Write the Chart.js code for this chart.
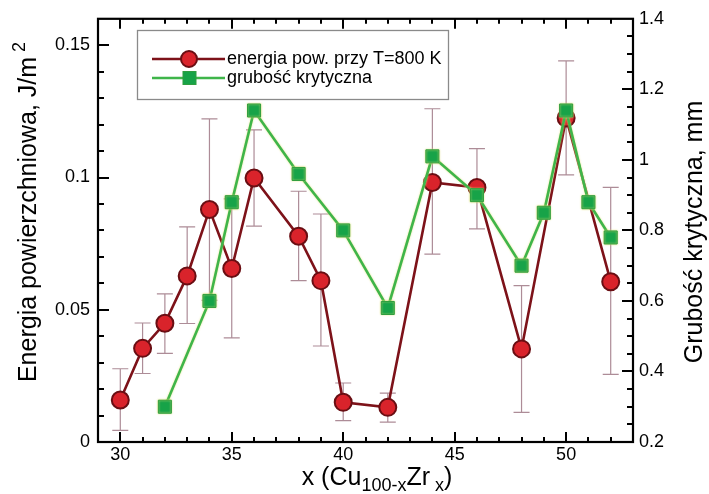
<!DOCTYPE html>
<html><head><meta charset="utf-8">
<script src="https://cdn.jsdelivr.net/npm/chart.js@4.4.0/dist/chart.umd.min.js"></script>
<style>html,body{margin:0;padding:0;background:#fff;} canvas{display:block;}</style>
</head><body>
<canvas id="c" width="709" height="494"></canvas>
<script>
// ---- data ----
const energyX = [30, 31, 32, 33, 34, 35, 36, 38, 39, 40, 42, 44, 46, 48, 50, 52];
const energyY = [0.0159, 0.0354, 0.0449, 0.0628, 0.0879, 0.0656, 0.0998, 0.0778, 0.0610, 0.0150, 0.0131, 0.0981, 0.0962, 0.0352, 0.1225, 0.0606];
const energyErrHigh = [0.0277, 0.0450, 0.0560, 0.0813, 0.1222, 0.0919, 0.1180, 0.0948, 0.0862, 0.0223, 0.0185, 0.1260, 0.1109, 0.0591, 0.1441, 0.0963];
const energyErrLow  = [0.0044, 0.0259, 0.0335, 0.0448, 0.0536, 0.0394, 0.0816, 0.0610, 0.0363, 0.0081, 0.0075, 0.0710, 0.0806, 0.0112, 0.1010, 0.0256];
const thickX = [32, 34, 35, 36, 38, 40, 42, 44, 46, 48, 49, 50, 51, 52];
const thickY = [0.30, 0.60, 0.88, 1.14, 0.96, 0.80, 0.58, 1.01, 0.90, 0.70, 0.85, 1.14, 0.88, 0.78];

const xTicks = [30, 35, 40, 45, 50];
const xTickLabels = ['30', '35', '40', '45', '50'];
const yLeftTicks = [0, 0.05, 0.1, 0.15];
const yLeftTickLabels = ['0', '0.05', '0.1', '0.15'];
const yRightTicks = [0.2, 0.4, 0.6, 0.8, 1, 1.2, 1.4];
const yRightTickLabels = ['0.2', '0.4', '0.6', '0.8', '1', '1.2', '1.4'];
const xMinorStep = 1, yLeftMinorStep = 0.01, yRightMinorStep = 0.05;

const energyLabel = 'energia pow. przy T=800 K';
const thickLabel = 'grubość krytyczna';
const yLeftTitle = 'Energia powierzchniowa, J/m';
const yLeftTitleSup = '2';
const yRightTitle = 'Grubość krytyczna, mm';
const xTitleParts = [['x (Cu', false], ['100-x', true], ['Zr', false], [' x', true], [')', false]];

const FONT = "'Liberation Sans', Arial, sans-serif";
const RED_LINE = '#7d1219', RED_FILL = '#d9232b', RED_EDGE = '#6a0e13';
const GREEN_LINE = '#3fb54a', GREEN_FILL = '#17a348', GREEN_EDGE = '#2f9e3f';
const ERR_COLOR = '#ad8c97';

function setTicks(vals) { return function (scale) { scale.ticks = vals.map(v => ({ value: v })); }; }
function labelFrom(vals, labs) { return function (v) { const i = vals.findIndex(t => Math.abs(t - v) < 1e-9); return i >= 0 ? labs[i] : ''; }; }

const errorBars = {
  id: 'errorBars',
  beforeDatasetsDraw(chart) {
    const ctx = chart.ctx, xs = chart.scales.x, ys = chart.scales.y;
    ctx.save();
    ctx.strokeStyle = ERR_COLOR; ctx.lineWidth = 1.2;
    energyX.forEach((xv, i) => {
      const px = xs.getPixelForValue(xv);
      const t = ys.getPixelForValue(energyErrHigh[i]);
      const b = ys.getPixelForValue(energyErrLow[i]);
      ctx.beginPath();
      ctx.moveTo(px, t); ctx.lineTo(px, b);
      ctx.moveTo(px - 8, t); ctx.lineTo(px + 8, t);
      ctx.moveTo(px - 8, b); ctx.lineTo(px + 8, b);
      ctx.stroke();
    });
    ctx.restore();
  },
  beforeDatasetDraw(chart, args) {
    if (args.index === 0) {
      chart.ctx.save();
      chart.ctx.shadowColor = 'rgba(225,225,120,0.9)';
      chart.ctx.shadowBlur = 2;
    }
  },
  afterDatasetDraw(chart, args) {
    if (args.index === 0) chart.ctx.restore();
  }
};

const frameAndText = {
  id: 'frameAndText',
  afterDraw(chart) {
    const ctx = chart.ctx, a = chart.chartArea;
    const xs = chart.scales.x, ys = chart.scales.y, y2 = chart.scales.y2;
    ctx.save();
    ctx.strokeStyle = '#000'; ctx.lineWidth = 2;
    const near = (arr, v) => arr.some(t => Math.abs(t - v) < 1e-6);
    ctx.beginPath();
    for (let k = 1; xs.min + k * xMinorStep < xs.max - 1e-6; k++) {
      const v = xs.min + k * xMinorStep;
      const p = Math.round(xs.getPixelForValue(v));
      const L = near(xTicks, v) ? 10 : 5;
      ctx.moveTo(p, a.bottom); ctx.lineTo(p, a.bottom - L);
      ctx.moveTo(p, a.top); ctx.lineTo(p, a.top + L);
    }
    for (let k = 1; ys.min + k * yLeftMinorStep < ys.max - 1e-6; k++) {
      const v = ys.min + k * yLeftMinorStep;
      const p = Math.round(ys.getPixelForValue(v));
      const L = near(yLeftTicks, v) ? 11 : 6;
      ctx.moveTo(a.left, p); ctx.lineTo(a.left + L, p);
    }
    for (let k = 1; y2.min + k * yRightMinorStep < y2.max - 1e-6; k++) {
      const v = y2.min + k * yRightMinorStep;
      const p = Math.round(y2.getPixelForValue(v));
      const L = near(yRightTicks, v) ? 11 : 6;
      ctx.moveTo(a.right, p); ctx.lineTo(a.right - L, p);
    }
    ctx.stroke();
    ctx.lineWidth = 2.2;
    ctx.strokeRect(a.left, a.top, a.right - a.left, a.bottom - a.top);

    // legend
    const lx = 137, ly = 30, lw = 311, lh = 69;
    ctx.fillStyle = '#fff'; ctx.fillRect(lx, ly, lw, lh);
    ctx.strokeStyle = '#8a8a8a'; ctx.lineWidth = 1.3;
    ctx.strokeRect(lx + 0.5, ly + 0.5, lw, lh);
    const rows = [
      { y: 59, line: RED_LINE, label: energyLabel, kind: 'circle' },
      { y: 78, line: GREEN_LINE, label: thickLabel, kind: 'rect' }
    ];
    rows.forEach(r => {
      ctx.strokeStyle = r.line; ctx.lineWidth = 2.6;
      ctx.beginPath(); ctx.moveTo(152, r.y); ctx.lineTo(225, r.y); ctx.stroke();
      if (r.kind === 'circle') {
        ctx.beginPath(); ctx.arc(189, r.y, 8, 0, Math.PI * 2);
        ctx.fillStyle = RED_FILL; ctx.fill();
        ctx.strokeStyle = RED_EDGE; ctx.lineWidth = 2; ctx.stroke();
      } else {
        ctx.fillStyle = GREEN_FILL; ctx.fillRect(183, r.y - 6.5, 13, 13);
        ctx.strokeStyle = GREEN_EDGE; ctx.lineWidth = 1; ctx.strokeRect(183, r.y - 6.5, 13, 13);
      }
      ctx.fillStyle = '#000'; ctx.font = '18px ' + FONT;
      ctx.textAlign = 'left'; ctx.textBaseline = 'middle';
      ctx.fillText(r.label, 227, r.y);
    });

    // x title with subscripts
    ctx.fillStyle = '#000'; ctx.textBaseline = 'alphabetic'; ctx.textAlign = 'left';
    const big = '25px ' + FONT, small = '18px ' + FONT;
    let total = 0;
    xTitleParts.forEach(([t, s]) => { ctx.font = s ? small : big; total += ctx.measureText(t).width; });
    let cx = 377 - total / 2;
    xTitleParts.forEach(([t, s]) => {
      ctx.font = s ? small : big;
      ctx.fillText(t, cx, s ? 491 : 485);
      cx += ctx.measureText(t).width;
    });

    // left title
    ctx.save();
    ctx.translate(36, 212); ctx.rotate(-Math.PI / 2);
    ctx.font = big;
    const w1 = ctx.measureText(yLeftTitle).width;
    ctx.font = small;
    const w2 = ctx.measureText(' ' + yLeftTitleSup).width;
    const start = -(w1 + w2) / 2;
    ctx.font = big; ctx.fillText(yLeftTitle, start, 0);
    ctx.font = small; ctx.fillText(' ' + yLeftTitleSup, start + w1, -11);
    ctx.restore();

    // right title
    ctx.save();
    ctx.translate(702, 232); ctx.rotate(-Math.PI / 2);
    ctx.font = big; ctx.textAlign = 'center';
    ctx.fillText(yRightTitle, 0, 0);
    ctx.restore();
    ctx.restore();
  }
};

new Chart(document.getElementById('c'), {
  type: 'line',
  data: {
    datasets: [
      {
        label: thickLabel,
        data: thickX.map((x, i) => ({ x, y: thickY[i] })),
        yAxisID: 'y2', order: 0,
        borderColor: GREEN_LINE, borderWidth: 2.6,
        pointStyle: 'rect', pointRadius: 9.2, pointHoverRadius: 9.2,
        pointBackgroundColor: GREEN_FILL, pointBorderColor: GREEN_EDGE, pointBorderWidth: 1,
        tension: 0
      },
      {
        label: energyLabel,
        data: energyX.map((x, i) => ({ x, y: energyY[i] })),
        yAxisID: 'y', order: 1,
        borderColor: RED_LINE, borderWidth: 2.6,
        pointStyle: 'circle', pointRadius: 8.5, pointHoverRadius: 8.5,
        pointBackgroundColor: RED_FILL, pointBorderColor: RED_EDGE, pointBorderWidth: 2,
        tension: 0
      }
    ]
  },
  options: {
    responsive: false, animation: false, devicePixelRatio: 1,
    layout: { padding: { top: 15, left: 0, right: 0, bottom: 0 } },
    plugins: { legend: { display: false }, tooltip: { enabled: false } },
    scales: {
      x: {
        type: 'linear', min: 29, max: 53,
        afterFit(s) { s.height = 52; },
        afterBuildTicks: setTicks(xTicks),
        grid: { display: false, drawTicks: false }, border: { display: false },
        ticks: { color: '#000', font: { family: FONT, size: 18 }, padding: 2, maxRotation: 0, callback: labelFrom(xTicks, xTickLabels) }
      },
      y: {
        type: 'linear', position: 'left', min: 0, max: 0.16,
        afterFit(s) { s.width = 98; },
        afterBuildTicks: setTicks(yLeftTicks),
        grid: { display: false, drawTicks: false }, border: { display: false },
        ticks: { color: '#000', font: { family: FONT, size: 18 }, padding: 8, callback: labelFrom(yLeftTicks, yLeftTickLabels) }
      },
      y2: {
        type: 'linear', position: 'right', min: 0.2, max: 1.4,
        afterFit(s) { s.width = 76; },
        afterBuildTicks: setTicks(yRightTicks),
        grid: { display: false, drawTicks: false }, border: { display: false },
        ticks: { color: '#000', font: { family: FONT, size: 18 }, padding: 6, callback: labelFrom(yRightTicks, yRightTickLabels) }
      }
    }
  },
  plugins: [errorBars, frameAndText]
});
</script>
</body></html>
